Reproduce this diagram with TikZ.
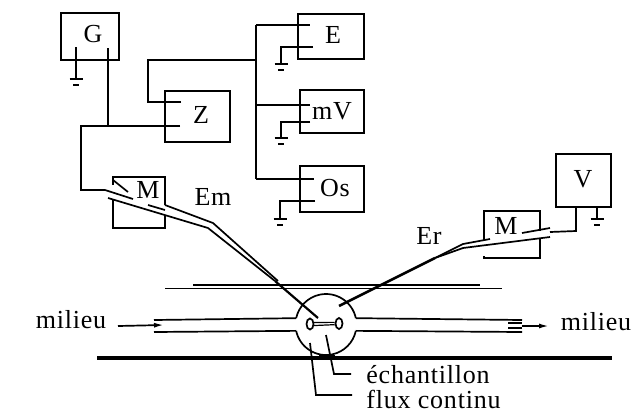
\documentclass[tikz,border=0pt]{standalone}
\usepackage{fontspec}
\setmainfont[LetterSpace=3]{Liberation Serif}
\usetikzlibrary{positioning,calc,arrows.meta,shapes.geometric}
\tikzset{
    box/.style={draw, line width=1.8pt, inner sep=0pt},
    label/.style={font=\fontsize{26}{30}\selectfont, inner sep=0pt},
    wire/.style={line width=1.7pt, line join=miter},
    gap/.style={white, line width=3pt},
    earth/.pic={
        \draw[line width=1.5pt] (-6.5,0) -- (6.5,0);
        \draw[line width=2.4pt] (-3,6) -- (3,6);
    }
}

\begin{document}
\begin{tikzpicture}[x=1pt,y=-1pt, >={Latex[length=10pt,width=5pt]}, thick]
    \useasboundingbox (0,0) rectangle (634,413);

    % instruments
    \node[box, minimum width=58pt, minimum height=47pt] (G) at (90,36.5) {};
    \node[label] at (93,34) {G};
    \node[box, minimum width=65pt, minimum height=51pt] (Z) at (197.5,116.5) {};
    \node[label] at (201,115) {Z};
    \node[box, minimum width=52pt, minimum height=51pt] (Mm) at (139,202.5) {};
    \node[label] at (148,190) {M};
    \node[box, minimum width=66pt, minimum height=45pt] (E) at (331,36.5) {};
    \node[label] at (333,35) {E};
    \node[box, minimum width=64pt, minimum height=43pt] (mV) at (332,111.5) {};
    \node[label] at (332,111) {mV};
    \node[box, minimum width=64pt, minimum height=46pt] (Os) at (332,189) {};
    \node[label] at (335,188) {Os};
    \node[box, minimum width=55pt, minimum height=53pt] (V) at (583.5,180.5) {};
    \node[label] at (583,179) {V};
    \node[box, minimum width=56pt, minimum height=47pt] (Mr) at (512,234.5) {};
    \node[label] at (506,226) {M};

    % breaks in the M boxes
    \draw[gap] (113,185) -- (113,199);
    \draw[gap] (165,205) -- (165,216);
    \draw[gap] (484,240) -- (484,256);
    \draw[gap] (540,231) -- (540,239);

    % bus and wiring
    \coordinate (gOut) at (108,48);
    \coordinate (gEarth) at (76,47);
    \coordinate (gNode) at (108,126);
    \coordinate (zIn) at (180,126);
    \coordinate (zOut) at (181,102);
    \coordinate (busTop) at (256,25);
    \coordinate (busZ) at (256,60);
    \coordinate (busV) at (256,105);
    \coordinate (busOs) at (256,179);
    \coordinate (eIn) at (310,25);
    \coordinate (mvIn) at (310,105);
    \coordinate (osIn) at (314,179);
    \coordinate (eGnd) at (313,47);
    \coordinate (mvGnd) at (310,122);
    \coordinate (osGnd) at (315,201);
    \coordinate (emIn) at (105,190);

    \draw[wire] (gOut) -- (gNode);
    \draw[wire] (zIn) -- (gNode) -- (81,126) |- (emIn);
    \draw[wire] (zOut) -| (148,60) -- (busZ);
    \draw[wire] (busTop) -- (busOs);
    \draw[wire] (busTop) -- (eIn);
    \draw[wire] (busV) -- (mvIn);
    \draw[wire] (busOs) -- (osIn);
    \draw[wire] (gEarth) -- (76,78) pic at (76,79) {earth};
    \draw[wire] (eGnd) -| (281,63) pic at (281,64) {earth};
    \draw[wire] (mvGnd) -| (281,137) pic at (281,138) {earth};
    \draw[wire] (osGnd) -| (280,218) pic at (280,219) {earth};
    \draw[wire] (V.south -| 597,0) -- (597,218) pic at (597,219) {earth};
    \draw[wire] (V.south -| 576,0) -- (576,231) -- (550,232);

    % the cell
    \node[circle, minimum size=61pt, inner sep=0pt, outer sep=0pt] (cell) at (326,324.5) {};
    \draw[wire] (cell.12) arc[start angle=12, end angle=168, radius=30.5pt];
    \draw[wire] (cell.192) arc[start angle=192, end angle=348, radius=30.5pt];
    \draw[wire] (154,320) -- (cell.168);
    \draw[wire] (154,332) -- (cell.192);
    \draw[wire] (cell.12) -- (522,320);
    \draw[wire] (cell.348) -- (522,332);
    \draw[line width=1.2pt] (193,285) -- (480,285);
    \draw[wire] (165,288.5) -- (502,288.5);
    \draw[line width=3.6pt] (97,358) -- (612,358);
    \fill (319,355) rectangle (335,358);

    % sample
    \node[ellipse, draw, wire, fill=white, minimum width=7pt, minimum height=11pt, inner sep=0pt] (sampleL) at (310,324) {};
    \node[ellipse, draw, wire, fill=white, minimum width=7pt, minimum height=11pt, inner sep=0pt] (sampleR) at (339,323.5) {};
    \draw[line width=1.2pt] (sampleL.20) -- (sampleR.165);
    \draw[line width=1.2pt] (sampleL.340) -- (sampleR.195);

    % Em cable
    \draw[wire] (emIn) -- (133,199);
    \draw[wire] (113,180) -- (128,192);
    \draw[wire] (108,198) -- (208,228) -- (275,281);
    \draw[line width=2.2pt] (275,281) -- (318,318);
    \draw[wire] (148,205) -- (165,210);
    \draw[wire] (165,205) -- (213,223) -- (278,281);

    % Er cable
    \draw[line width=2.6pt] (339,306) -- (435,258);
    \draw[wire] (435,258) -- (463,244) -- (490,239);
    \draw[wire] (435,258) -- (463,248) -- (550,237);
    \draw[wire] (522,233) -- (550,228);

    % flow arrows and labels
    \node[label] (milieuL) at (71,320) {milieu};
    \node[label] (milieuR) at (596,322) {milieu};
    \coordinate (flowIn) at (118,326);
    \coordinate (flowOut) at (549,326);
    \draw[->, wire] (flowIn) -- (164,325);
    \draw[->, wire] (522,326) -- (flowOut);
    \draw[line width=1.2pt] (508,323) -- (522,323);
    \draw[line width=1.2pt] (508,328) -- (522,328);

    \node[label] at (213,197) {Em};
    \node[label] at (429,236) {Er};

    \node[label, anchor=west] (sampleTxt) at (366,375) {échantillon};
    \node[label, anchor=west] (fluxTxt) at (366,399) {flux continu};
    \draw[wire] (326,335) -- (334,374) -- (351,374);
    \draw[wire] (310,343) -- (316,395) -- (352,395);
\end{tikzpicture}
\end{document}
